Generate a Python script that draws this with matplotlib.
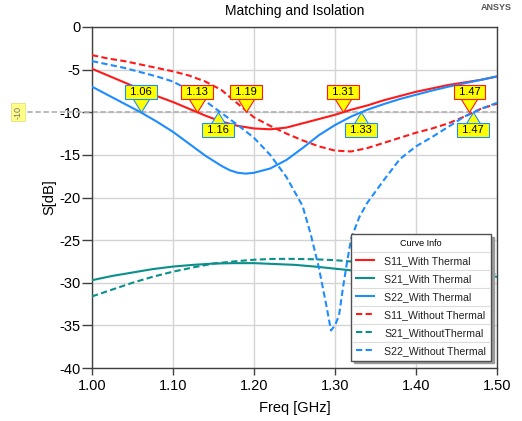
import matplotlib
matplotlib.use("Agg")
import matplotlib.pyplot as plt
from matplotlib.lines import Line2D
from matplotlib.path import Path

plt.rcParams['font.family'] = ['Liberation Sans', 'DejaVu Sans']
plt.rcParams['axes.unicode_minus'] = False

# ---------------- data ----------------
f_main = [1.00, 1.02, 1.04, 1.06, 1.08, 1.10, 1.12, 1.14, 1.16, 1.18, 1.20, 1.22, 1.24,
          1.26, 1.28, 1.30, 1.32, 1.34, 1.36, 1.38, 1.40, 1.42, 1.44, 1.46, 1.48, 1.50]

s11_with = [-4.9, -5.7, -6.5, -7.3, -8.1, -8.8, -9.6, -10.4, -11.1, -11.6, -11.9, -12.0, -11.8,
            -11.3, -10.8, -10.3, -9.7, -9.2, -8.6, -8.1, -7.6, -7.2, -6.8, -6.5, -6.2, -5.8]

f_s22w = [1.00, 1.02, 1.04, 1.06, 1.08, 1.10, 1.12, 1.14, 1.16, 1.17, 1.18, 1.19, 1.20, 1.22,
          1.24, 1.26, 1.28, 1.30, 1.32, 1.34, 1.36, 1.38, 1.40, 1.42, 1.44, 1.46, 1.48, 1.50]
s22_with = [-7.0, -8.0, -9.0, -10.0, -11.1, -12.3, -13.7, -15.1, -16.3, -16.8, -17.1, -17.2, -17.1,
            -16.6, -15.6, -14.2, -12.7, -11.5, -10.5, -9.7, -9.05, -8.45, -7.95, -7.45, -7.0, -6.6,
            -6.2, -5.8]

s11_without = [-3.3, -3.7, -4.0, -4.4, -4.8, -5.2, -5.7, -6.4, -7.4, -9.0, -10.6, -11.6, -12.5,
               -13.3, -14.0, -14.5, -14.6, -14.2, -13.6, -13.0, -12.4, -11.9, -11.3, -10.5, -9.6, -9.0]

f_s22wo = [1.00, 1.02, 1.04, 1.06, 1.08, 1.10, 1.12, 1.14, 1.16, 1.18, 1.20, 1.22, 1.24, 1.26,
           1.27, 1.28, 1.29, 1.295, 1.30, 1.305, 1.31, 1.315, 1.32, 1.33, 1.34, 1.36, 1.38,
           1.40, 1.42, 1.44, 1.46, 1.48, 1.50]
s22_without = [-4.0, -4.4, -4.8, -5.3, -5.8, -6.4, -7.4, -8.7, -10.1, -11.5, -13.0, -15.0, -17.6,
               -21.0, -24.3, -28.2, -33.0, -35.6, -35.0, -33.8, -30.5, -27.5, -24.8, -22.3,
               -20.6, -18.0, -15.5, -14.0, -12.9, -11.7, -10.5, -9.6, -8.9]

f_s21 = [1.000, 1.025, 1.050, 1.075, 1.100, 1.125, 1.150, 1.175, 1.200, 1.225, 1.250, 1.275,
         1.300, 1.325, 1.350, 1.375, 1.400, 1.425, 1.450, 1.475, 1.500]
s21_with = [-29.7, -29.2, -28.8, -28.4, -28.1, -27.9, -27.75, -27.7, -27.7, -27.8, -27.9, -28.1,
            -28.35, -28.6, -28.8, -28.95, -29.05, -29.15, -29.2, -29.25, -29.3]
s21_without = [-31.6, -30.8, -30.0, -29.3, -28.7, -28.2, -27.75, -27.5, -27.3, -27.2, -27.2,
               -27.25, -27.35, -27.55, -27.8, -28.05, -28.3, -28.5, -28.7, -28.85, -29.0]

legend_labels = ["S11_With Thermal", "S21_With Thermal", "S22_With Thermal",
                 "S11_Without Thermal", "S21_WithoutThermal", "S22_Without Thermal"]

# markers on the -10 dB line
marker_level = -10
marker_freq = [1.06, 1.13, 1.19, 1.31, 1.466, 1.155, 1.332, 1.47]
marker_text = ["1.06", "1.13", "1.19", "1.31", "1.47", "1.16", "1.33", "1.47"]
marker_curve = ["S22", "S11", "S11", "S11", "S11", "S22", "S22", "S22"]
marker_above = [True, True, True, True, True, False, False, False]

xticks = [1.00, 1.10, 1.20, 1.30, 1.40, 1.50]
yticks = [0, -5, -10, -15, -20, -25, -30, -35, -40]

# ---------------- style ----------------
RED = '#ff1a1a'
TEAL = '#0a8f8a'
BLUE = '#1e8cff'
DASH = (0, (3, 1.6))

fig = plt.figure(figsize=(5.22, 4.21), dpi=100)
ax = fig.add_axes([92/522, 53/421, 405/522, 341/421])

lw = 1.5
ax.plot(f_main, s11_with, color=RED, lw=lw, label=legend_labels[0], zorder=3)
ax.plot(f_s21, s21_with, color=TEAL, lw=lw, label=legend_labels[1], zorder=3)
ax.plot(f_s22w, s22_with, color=BLUE, lw=lw, label=legend_labels[2], zorder=3)
ax.plot(f_main, s11_without, color=RED, lw=lw, ls=DASH, label=legend_labels[3], zorder=3)
ax.plot(f_s21, s21_without, color=TEAL, lw=lw, ls=DASH, label=legend_labels[4], zorder=3)
ax.plot(f_s22wo, s22_without, color=BLUE, lw=lw, ls=DASH, label=legend_labels[5], zorder=3)

ax.set_xlim(1.0, 1.5)
ax.set_ylim(-40, 0)
ax.set_xticks(xticks)
ax.set_xticklabels([f"{t:.2f}" for t in xticks])
ax.set_yticks(yticks)
ax.grid(True, color='#d4d4d4', lw=1.0, zorder=0)
ax.set_axisbelow(True)
for sp in ax.spines.values():
    sp.set_color('#404040')
    sp.set_linewidth(1.0)
ax.tick_params(axis='y', length=7.5, width=1, color='#404040', pad=1, labelsize=10.5)
ax.tick_params(axis='x', length=5, width=1, color='#404040', pad=3, labelsize=10.5)

ax.set_xlabel("Freq [GHz]", fontsize=10.5, labelpad=6)
ax.set_ylabel("S[dB]", fontsize=10.5, labelpad=2)
ax.set_title("Matching and Isolation", fontsize=10, pad=9)
fig.text(0.981, 0.981, "ANSYS", ha='right', va='center', fontsize=6.5,
         fontweight='bold', color='#555555')

# -10 dB reference line
ax.plot([-0.2, 1.0], [marker_level, marker_level], transform=ax.get_yaxis_transform(),
        color='#b4b4b4', lw=1.3, ls=(0, (3, 1.5)), clip_on=False, zorder=2)
ax.text(-0.183, marker_level, "-10", transform=ax.get_yaxis_transform(), rotation=90,
        ha='center', va='center', fontsize=6.5, color='#707070',
        bbox=dict(boxstyle='square,pad=0.3', fc='#ffff88', ec='#e0e080', lw=0.6))

# markers: yellow pointer triangle + label box
tri_up = Path([(0, 0), (-0.62, 1), (0.62, 1), (0, 0)],
              [Path.MOVETO, Path.LINETO, Path.LINETO, Path.CLOSEPOLY])
tri_dn = Path([(0, 0), (-0.62, -1), (0.62, -1), (0, 0)],
              [Path.MOVETO, Path.LINETO, Path.LINETO, Path.CLOSEPOLY])
for fq, txt, cv, up in zip(marker_freq, marker_text, marker_curve, marker_above):
    ec = RED if cv == "S11" else BLUE
    ax.plot([fq], [marker_level], marker=tri_up if up else tri_dn,
            ms=20 if up else 18, mfc='#ffff00', mec=ec, mew=0.8, ls='none', zorder=6,
            clip_on=False)
    dy = 14.8 if up else -12.8
    ax.annotate(" " + txt + " ", xy=(fq, marker_level), xytext=(0, dy),
                textcoords='offset points', ha='center', va='center', fontsize=8,
                color='black', zorder=7,
                bbox=dict(boxstyle='square,pad=0.18', fc='#ffff00', ec=ec, lw=0.8))

# legend
leg = ax.legend(loc='upper left', bbox_to_anchor=(0.640, 0.393),
                title="Curve Info", title_fontsize=6.5, fontsize=7.6,
                frameon=True, fancybox=False, shadow={'color': '#9a9a9a', 'alpha': 1},
                borderpad=0.45, labelspacing=0.76, handlelength=1.7, handletextpad=1.0,
                borderaxespad=0.0)
leg.get_frame().set_edgecolor('#505050')
leg.get_frame().set_linewidth(1.0)
leg.set_zorder(10)
for t in leg.get_texts():
    t.set_color('#222222')

fig.canvas.draw()
inv = fig.transFigure.inverted()
lb = leg.get_window_extent()
texts = leg.get_texts()
tops = [leg.get_title().get_window_extent()] + [t.get_window_extent() for t in texts]
for a, b in zip(tops[:-1], tops[1:]):
    ymid = (a.y0 + b.y1) / 2
    p0 = inv.transform((lb.x0 + 1, ymid))
    p1 = inv.transform((lb.x1 - 1, ymid))
    fig.add_artist(Line2D([p0[0], p1[0]], [p0[1], p1[1]], color='#dcdcdc', lw=0.8, zorder=11))

fig.savefig("out.png", dpi=100)
